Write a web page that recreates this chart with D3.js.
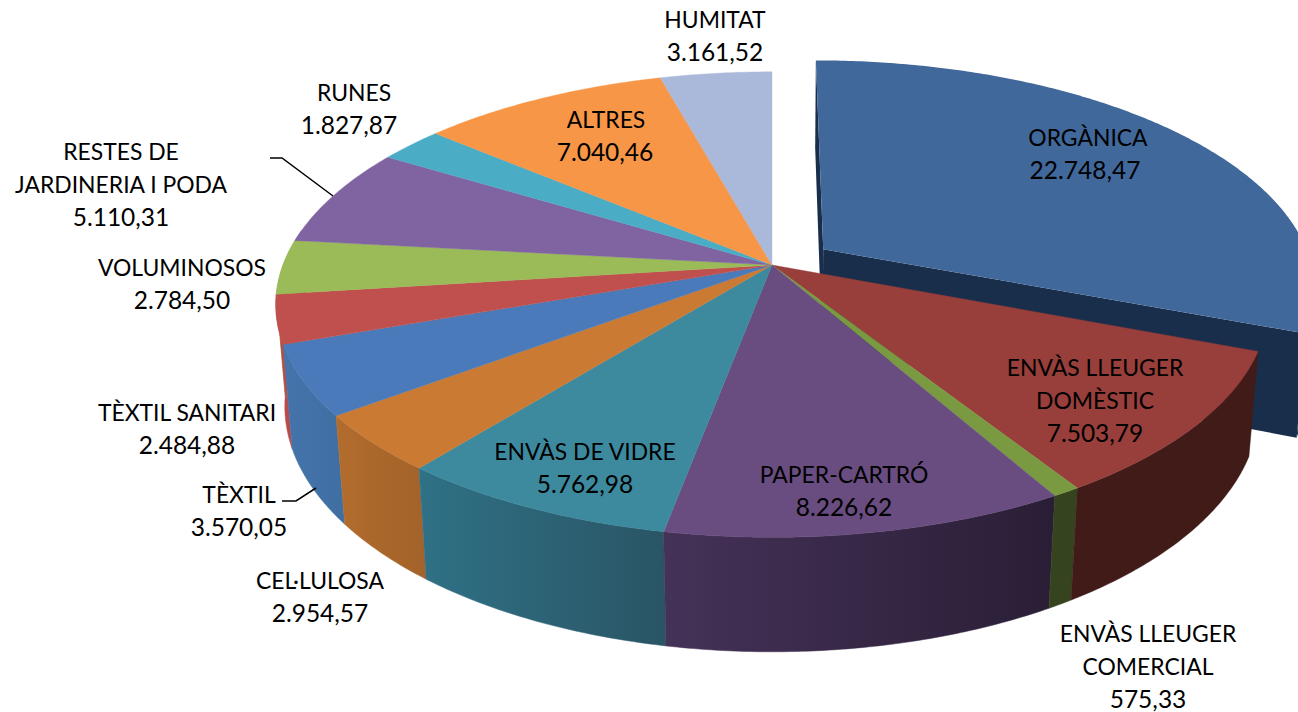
<!DOCTYPE html>
<html><head><meta charset="utf-8">
<script src="https://cdnjs.cloudflare.com/ajax/libs/d3/7.8.5/d3.min.js"></script>
<style>html,body{margin:0;padding:0;background:#fff;overflow:hidden}svg{display:block}
text{font-family:Lato,"Open Sans",sans-serif;font-size:24.5px;fill:#000;text-anchor:middle}
.name{font-size:22.9px}</style>
</head><body><svg id="c" width="1298" height="712"></svg>
<script>
const categories=[["ORGÀNICA"],["ENVÀS LLEUGER","DOMÈSTIC"],["ENVÀS LLEUGER","COMERCIAL"],["PAPER-CARTRÓ"],["ENVÀS DE VIDRE"],["CEL·LULOSA"],["TÈXTIL"],["TÈXTIL SANITARI"],["VOLUMINOSOS"],["RESTES DE","JARDINERIA I PODA"],["RUNES"],["ALTRES"],["HUMITAT"]];
const values=[22748.47,7503.79,575.33,8226.62,5762.98,2954.57,3570.05,2484.88,2784.50,5110.31,1827.87,7040.46,3161.52];
const topColors=["#41689b","#983e3b","#7a9a42","#694d80","#3d8a9f","#cb7a33","#4a7ab9","#c0504d","#9bbb59","#8064a2","#4bacc6","#f79646","#aab8d9"];
const wallLeft=["#182e4b","#401b18","#35431f","#453258","#2f7186","#b26c2d","#4474ab","#b84b48","#9bbb59","#8064a2","#4bacc6","#f79646","#aab8d9"];
const wallRight=["#182e4b","#401b18","#35431f","#2a1e36","#2a5565","#a4632a","#3f6fa3","#b84b48","#9bbb59","#8064a2","#4bacc6","#f79646","#aab8d9"];
const labelAnchors=[[1088,146],[1095,376],[1148,642],[844,483],[585,460],[320,589],[239,503],[187,421],[182,276],[121,160],[354,101],[606,128],[715,28]];
const valueAnchorX=[1085,1095,1148,844,585,320,239,187,182,121,349,605,715];
const leaders=[[[270,158],[282,158],[333,196]],[[282,501],[296,501],[316,488]]];

const cx=772,cy=265,a=489,b=226,k=0.17,d=102,m=0.018;
const explode=[0.106,-0.07];
const project=(u,v,h)=>{const w=1-k*v+m*h;return [cx+a*u/w,cy+(b*v+d*h)/w];};
const pie=d3.pie().sort(null).startAngle(0).endAngle(2*Math.PI);
const arcs=pie(values);
const svg=d3.select("#c"),defs=svg.append("defs");
const line=d3.line();
const fmt=d3.formatLocale({decimal:",",thousands:".",grouping:[3],currency:["",""]}).format(",.2f");
const offset=i=>i===0?explode:[0,0];
const rim=(t0,t1,i,h)=>{
  const [ox,oy]=offset(i),n=Math.max(2,Math.ceil((t1-t0)/0.01));
  return d3.range(n+1).map(j=>{const t=t0+(t1-t0)*j/n;return project(ox+Math.sin(t),oy-Math.cos(t),h);});
};
const topPath=(s,i)=>{const [ox,oy]=offset(i);return line([project(ox,oy,0),...rim(s.startAngle,s.endAngle,i,0)])+"Z";};
const radialWall=(t,i)=>{const [ox,oy]=offset(i);return line([project(ox,oy,0),project(ox+Math.sin(t),oy-Math.cos(t),0),project(ox+Math.sin(t),oy-Math.cos(t),1),project(ox,oy,1)])+"Z";};
const lo=Math.PI*0.5,hi=Math.PI*1.55;
const wallPath=(s,i)=>{
  const t0=Math.max(s.startAngle,lo),t1=Math.min(s.endAngle,hi);
  if(t1<=t0) return null;
  return line([...rim(t0,t1,i,0),...rim(t0,t1,i,1).reverse()])+"Z";
};
const grad=(s,i)=>{
  const t0=Math.max(s.startAngle,lo),t1=Math.min(s.endAngle,hi);
  if(t1<=t0) return "none";
  const x0=project(Math.sin(t0),-Math.cos(t0),0)[0],x1=project(Math.sin(t1),-Math.cos(t1),0)[0];
  const g=defs.append("linearGradient").attr("id","w"+i).attr("gradientUnits","userSpaceOnUse")
    .attr("x1",Math.min(x0,x1)).attr("x2",Math.max(x0,x1)).attr("y1",0).attr("y2",0);
  g.append("stop").attr("offset",0).attr("stop-color",wallLeft[i]);
  g.append("stop").attr("offset",1).attr("stop-color",wallRight[i]);
  return `url(#w${i})`;
};
// exploded slice, painted behind the rest of the pie
const s0=arcs[0];
svg.append("path").attr("d",radialWall(s0.startAngle,0)).attr("fill",wallLeft[0]);
svg.append("path").attr("d",radialWall(s0.endAngle,0)).attr("fill",wallLeft[0]);
svg.append("path").attr("d",wallPath(s0,0)).attr("fill",wallLeft[0]);
svg.append("path").attr("d",topPath(s0,0)).attr("fill",topColors[0]);
// walls
const rest=arcs.map((s,i)=>({s,i})).filter(o=>o.i>0);
svg.append("g").selectAll("path").data(rest.filter(o=>wallPath(o.s,o.i)).reverse()).join("path")
  .attr("d",o=>wallPath(o.s,o.i)).attr("fill",o=>grad(o.s,o.i)).attr("stroke",o=>grad(o.s,o.i)).attr("stroke-width",0.5);
// tops
svg.append("g").selectAll("path").data(rest).join("path")
  .attr("d",o=>topPath(o.s,o.i)).attr("fill",o=>topColors[o.i]).attr("stroke",o=>topColors[o.i]).attr("stroke-width",0.4);
// leaders
svg.append("g").selectAll("path").data(leaders).join("path")
  .attr("d",p=>line(p)).attr("fill","none").attr("stroke","#000").attr("stroke-width",1.5);
// labels
const lh=32.5;
categories.forEach((lines,i)=>{
  const [x,y]=labelAnchors[i];
  const t=svg.append("text").attr("x",x).attr("y",y);
  lines.forEach((l,j)=>t.append("tspan").attr("class","name").attr("x",x).attr("y",y+j*lh).text(l));
  t.append("tspan").attr("x",valueAnchorX[i]).attr("y",y+lines.length*lh+0.5).text(fmt(values[i]));
});
</script></body></html>
